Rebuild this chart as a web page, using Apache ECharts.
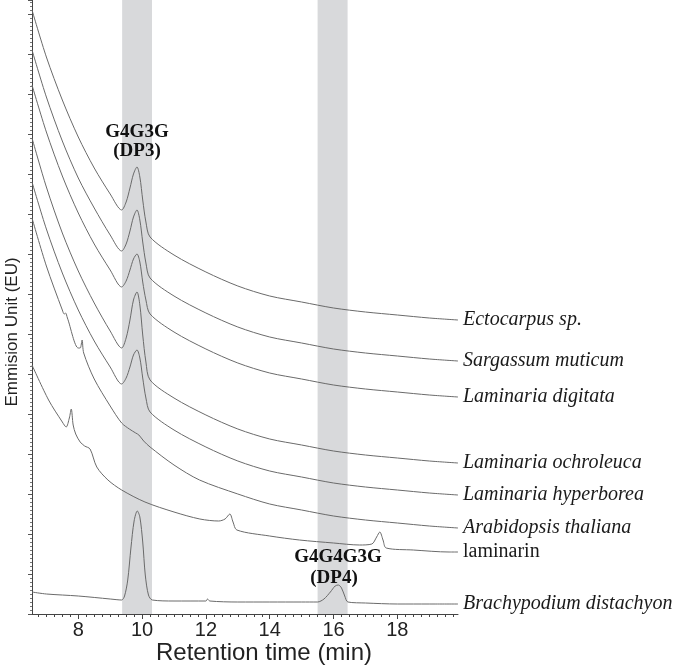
<!DOCTYPE html>
<html><head><meta charset="utf-8">
<script src="https://cdn.jsdelivr.net/npm/echarts@6/dist/echarts.min.js"></script>
<style>html,body{margin:0;padding:0;background:#fff}#c{width:675px;height:668px}</style>
</head><body><div id="c"></div>
<script>
// Retention times (min) shared by the five algal traces
const algaeTime = [6.55, 7.0, 7.5, 8.0, 8.5, 9.0, 9.36, 9.5, 9.62, 9.73, 9.84, 9.93, 10.02, 10.12, 10.25, 11, 12, 13, 14, 15, 16, 17, 18, 19, 19.9];
const ectocarpus = [604, 557, 514, 477, 446, 420, 404, 412, 426, 440, 447, 437, 414, 392, 377, 359, 342, 328, 318, 312, 306, 302, 299, 296, 294];
const sargassum  = [564, 517, 473, 436, 406, 379, 363, 370, 383, 397, 404, 394, 372, 351, 336, 318, 301, 287, 277, 271, 265, 261, 258, 255, 253];
const digitata   = [529, 482, 438, 401, 370, 344, 327, 333, 344, 355, 360, 352, 332, 314, 300, 282, 265, 251, 241, 235, 229, 225, 222, 219, 217];
const ochroleuca = [476, 427, 381, 343, 311, 283, 266, 276, 294, 314, 322, 309, 279, 252, 234, 216, 199, 185, 175, 169, 163, 159, 156, 153, 151];
const hyperborea = [432, 385, 341, 304, 273, 247, 230, 236, 247, 259, 264, 256, 236, 216, 202, 184, 167, 153, 143, 137, 131, 127, 124, 121, 119];

const arabTime = [6.55, 7.0, 7.5, 7.56, 7.6, 7.66, 8.0, 8.06, 8.12, 8.17, 8.5, 9.0, 9.36, 9.6, 9.8, 9.9, 10.05, 10.25, 11, 11.8, 13, 14, 15, 16, 17, 18, 19, 19.9];
const arabidopsis = [396, 348, 304, 300, 301, 296, 266, 266, 274, 261, 235, 208, 191, 185, 181, 179, 173, 167, 149, 134, 120, 110, 104, 98, 94, 91, 88, 86];

const lamTime = [6.55, 7.07, 7.5, 7.62, 7.72, 7.78, 7.84, 7.92, 8.06, 8.2, 8.37, 8.58, 8.93, 9.36, 10.09, 11.0, 11.81, 12.4, 12.6, 12.75, 12.85, 12.97, 14.0, 14.93, 16.0, 16.81, 17.2, 17.35, 17.45, 17.55, 17.65, 18.5, 19.62, 19.9];
const laminarin = [249, 214, 192, 187, 196, 205, 189, 180, 172, 168, 165, 147, 134, 124, 112, 102, 95, 93, 95, 100, 92, 84, 78, 74, 71, 69, 70, 77, 82, 74, 66, 64, 62, 62];

const brachyTime = [6.55, 7, 8, 9, 9.36, 9.45, 9.55, 9.65, 9.75, 9.85, 9.93, 10.02, 10.1, 10.2, 10.32, 11, 12, 12.05, 12.12, 13, 14, 15, 15.5, 15.7, 15.9, 16.05, 16.15, 16.25, 16.35, 16.45, 17, 18, 19, 19.9];
const brachypodium = [22, 20, 18, 15, 14, 18, 34, 66, 93, 103, 97, 72, 39, 19, 14, 13, 13, 15, 13, 12, 12, 12, 12, 15, 22, 28, 29, 26, 18, 12, 11, 10, 10, 10];

const xTickLabels = [8, 10, 12, 14, 16, 18];
const bandDP3 = [9.375, 10.31];
const bandDP4 = [15.5, 16.44];
const xMin = 6.55, xMax = 19.9, yMin = 0, yMax = 614;

const zip = (t, v) => t.map((x, i) => [x, v[i]]);
const quarterTicks = [];
for (let k = Math.ceil(xMin * 4); k <= Math.floor(xMax * 4); k++) quarterTicks.push(k / 4);

const lineColor = '#6a6a6a';
function mk(name, t, v, italic) {
  return {
    name, type: 'line', data: zip(t, v), showSymbol: false, smooth: 0.3,
    lineStyle: { color: lineColor, width: 1 }, z: 3, silent: true,
    endLabel: { show: true, formatter: '{a}', distance: 5,
      fontFamily: 'Liberation Serif', fontStyle: italic ? 'italic' : 'normal',
      fontSize: 20, color: '#1a1a1a' }
  };
}

const chart = echarts.init(document.getElementById('c'), null, { renderer: 'canvas' });
chart.setOption({
  animation: false,
  grid: { left: 32, right: 217, top: 0, bottom: 54 },
  xAxis: [
    { type: 'value', min: xMin, max: xMax, position: 'bottom',
      axisLine: { show: true, lineStyle: { color: '#444', width: 1 } },
      axisTick: { show: true, customValues: quarterTicks, length: 3, lineStyle: { color: '#444' } },
      axisLabel: { show: false }, splitLine: { show: false } },
    { type: 'value', min: xMin, max: xMax, position: 'bottom',
      axisLine: { show: false },
      axisTick: { show: true, customValues: xTickLabels, length: 5, lineStyle: { color: '#444' } },
      axisLabel: { show: true, customValues: xTickLabels, fontFamily: 'Liberation Sans', fontSize: 20, color: '#222', margin: 6 },
      splitLine: { show: false } }
  ],
  yAxis: {
    type: 'value', min: yMin, max: yMax, interval: 40,
    axisLine: { show: true, lineStyle: { color: '#444', width: 1 } },
    axisTick: { show: true, length: 4, lineStyle: { color: '#555' } },
    minorTick: { show: true, splitNumber: 10, length: 2, lineStyle: { color: '#777' } },
    axisLabel: { show: false }, splitLine: { show: false }
  },
  series: [
    { name: 'bands', type: 'line', data: [], z: 1, silent: true,
      markArea: { silent: true, itemStyle: { color: '#d8d9db' },
        data: [[{ xAxis: bandDP3[0] }, { xAxis: bandDP3[1] }], [{ xAxis: bandDP4[0] }, { xAxis: bandDP4[1] }]] } },
    mk('Ectocarpus sp.', algaeTime, ectocarpus, true),
    mk('Sargassum muticum', algaeTime, sargassum, true),
    mk('Laminaria digitata', algaeTime, digitata, true),
    mk('Laminaria ochroleuca', algaeTime, ochroleuca, true),
    mk('Laminaria hyperborea', algaeTime, hyperborea, true),
    mk('Arabidopsis thaliana', arabTime, arabidopsis, true),
    mk('laminarin', lamTime, laminarin, false),
    mk('Brachypodium distachyon', brachyTime, brachypodium, true)
  ],
  graphic: [
    { type: 'text', z: 100, x: 137, y: 132, style: { text: 'G4G3G', font: 'bold 19px "Liberation Serif"', fill: '#111', align: 'center', verticalAlign: 'middle' } },
    { type: 'text', z: 100, x: 137, y: 151, style: { text: '(DP3)', font: 'bold 19px "Liberation Serif"', fill: '#111', align: 'center', verticalAlign: 'middle' } },
    { type: 'text', z: 100, x: 338, y: 557, style: { text: 'G4G4G3G', font: 'bold 19px "Liberation Serif"', fill: '#111', align: 'center', verticalAlign: 'middle' } },
    { type: 'text', z: 100, x: 334, y: 578, style: { text: '(DP4)', font: 'bold 19px "Liberation Serif"', fill: '#111', align: 'center', verticalAlign: 'middle' } },
    { type: 'text', z: 100, x: 264, y: 653, style: { text: 'Retention time (min)', font: '24px "Liberation Sans"', fill: '#222', align: 'center', verticalAlign: 'middle' } },
    { type: 'text', z: 100, x: 12, y: 332, rotation: Math.PI / 2, style: { text: 'Emmision Unit (EU)', font: '17px "Liberation Sans"', fill: '#222', align: 'center', verticalAlign: 'middle' } }
  ]
});
</script></body></html>
